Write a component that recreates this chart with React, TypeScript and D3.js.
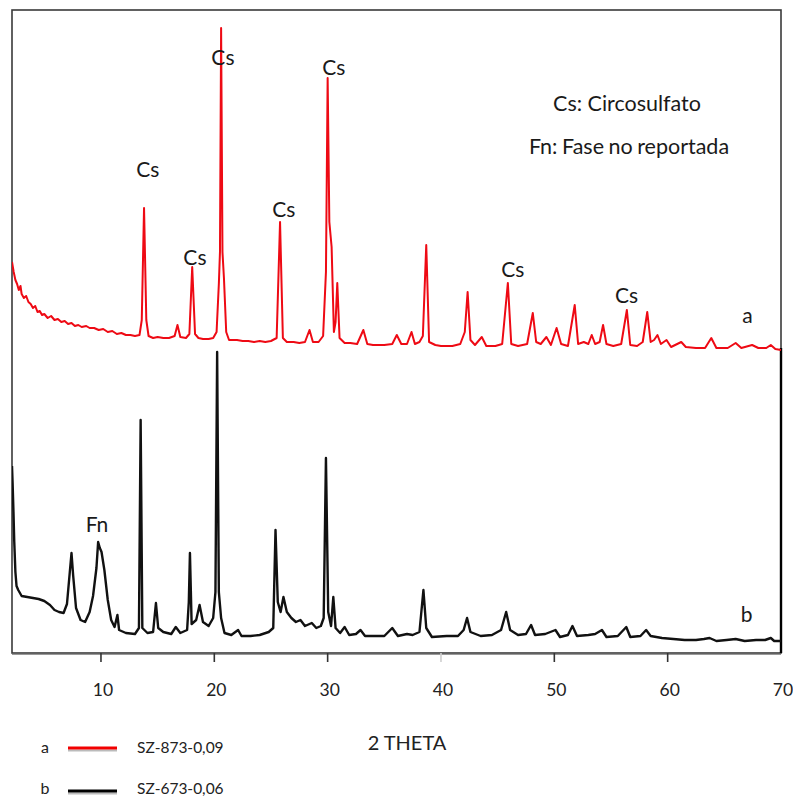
import React from "react";
import * as d3 from "d3";

// 2θ (degrees) vs relative intensity (arbitrary units, common scale)
const sampleA: [number, number][] = [
  [2.15,195],[2.3,190],[2.45,186],[2.6,184],[2.75,181],[2.9,183],[3.0,179],[3.2,177],[3.4,178],[3.6,175],[3.8,174],[4.0,172],[4.2,173],[4.4,170],[4.6,170.5],[4.8,168.5],[5.0,169],[5.3,167],[5.6,168],[5.9,166],[6.2,166.5],[6.5,165],[6.8,165.5],[7.1,164],[7.4,164.5],[7.7,163],[8.0,163.5],[8.3,162.5],[8.7,163],[9.0,162],[9.4,162],[9.8,161],[10.2,161.5],[10.6,160],[11.0,160.5],[11.4,159],[11.8,159.5],[12.2,158.5],[12.6,158.5],[13.0,158],[13.4,158.5],[13.6,166],[13.8,222],[14.0,166],[14.2,158],[14.6,157],[15.0,157.5],[15.5,157],[16.0,157],[16.5,158],[16.75,163.5],[17.0,157.5],[17.5,157],[17.8,159],[18.05,192.5],[18.3,159],[18.6,157],[19.0,156.5],[19.5,156.5],[19.9,157],[20.2,160],[20.4,184],[20.5,200],[20.6,312],[20.72,200],[20.85,187],[21.05,160],[21.3,156],[22,156],[22.5,155.5],[23,155.5],[23.5,155],[24,155.5],[24.5,155],[25.0,155.5],[25.5,157],[25.8,215],[26.05,157],[26.4,155],[27,155],[27.5,154.5],[28.0,155],[28.4,161],[28.7,155],[29.2,155],[29.6,158],[29.85,190],[30.0,287],[30.15,215],[30.35,202.5],[30.55,160],[30.7,165],[30.85,184.5],[31.05,157],[31.5,154.5],[32,154.5],[32.6,154],[33.15,161],[33.5,154],[34,153.5],[35,153.5],[35.7,154],[36.1,158.5],[36.5,154],[37.0,154],[37.4,160],[37.7,154],[38.1,155],[38.4,158],[38.7,203.5],[38.95,155],[39.5,153.5],[40,153],[41,153],[41.7,154],[42.1,160],[42.35,180],[42.6,156],[43.0,153.5],[43.6,157.5],[44.0,153],[44.8,153],[45.4,154],[45.9,184.5],[46.2,154],[46.8,153],[47.6,154],[48.1,169.5],[48.4,155],[48.8,154],[49.3,157.5],[49.7,153.5],[50.2,162],[50.6,154],[51.2,153],[51.8,173.5],[52.1,154],[52.6,155],[53.0,154],[53.3,158.5],[53.6,154],[54.0,155],[54.3,163.5],[54.6,154],[55.2,153],[55.9,154],[56.4,171],[56.7,153.5],[57.3,153],[57.8,155],[58.2,170],[58.5,155],[58.8,156],[59.1,158.5],[59.4,154],[59.9,156],[60.3,152.5],[61.2,155],[61.6,152.5],[62.5,152],[63.3,152],[63.85,157],[64.3,152],[65.3,152],[66.0,154.5],[66.5,152],[67.45,153.5],[68,152],[68.7,152],[69.1,153.5],[69.5,151.5],[70,151]
];

const sampleB: [number, number][] = [
  [2.15,93],[2.2,85],[2.28,70],[2.35,55],[2.45,40],[2.55,33],[2.7,31],[3.0,28],[3.5,27.5],[4.0,27],[4.5,26.5],[5.0,25.5],[5.5,23.5],[5.9,21],[6.3,20],[6.7,19.5],[7.0,24],[7.25,40],[7.4,49.5],[7.55,38],[7.8,22],[8.2,16],[8.6,15],[9.0,20],[9.3,28],[9.6,42],[9.75,55],[9.9,52],[10.05,50],[10.3,41],[10.6,26],[10.9,16],[11.2,12.5],[11.45,18.5],[11.6,11],[12.2,9.5],[13.0,9],[13.35,12],[13.5,116],[13.65,12],[14.1,9.5],[14.6,10],[14.85,24.5],[15.05,12],[15.5,10],[16.2,9],[16.6,12.5],[17.0,9.5],[17.6,11],[17.75,25],[17.85,49.5],[18.0,14],[18.4,16],[18.7,23.5],[19.0,15],[19.5,13],[19.9,17],[20.1,30],[20.25,150],[20.4,30],[20.6,17],[20.9,9.5],[21.5,8.5],[22.1,11],[22.4,8],[23.2,8],[24.0,8.5],[24.8,10],[25.2,12],[25.4,61],[25.6,25],[25.85,20],[26.1,27.5],[26.4,20],[26.8,17],[27.2,15],[27.6,16],[28.0,13],[28.6,14.5],[29.0,12],[29.4,13],[29.65,17],[29.85,97],[30.05,20],[30.3,13],[30.5,27.5],[30.7,12],[31.1,9.5],[31.5,12.5],[31.9,8.5],[32.5,9],[32.9,11],[33.3,8],[34.2,8],[35.0,8],[35.7,12],[36.2,8],[37.0,9],[37.5,8.5],[38.1,10],[38.45,31],[38.7,12],[39.2,7.5],[40.5,8],[41.5,8],[42.0,11],[42.3,17],[42.6,10],[43.5,8],[44.5,8.5],[45.3,11],[45.75,20],[46.1,11],[46.8,8.5],[47.5,9],[47.95,13.5],[48.3,8.5],[49.2,9],[50.1,11],[50.5,7.5],[51.2,8.5],[51.6,13],[52.0,8],[53.0,8.5],[53.6,9],[54.2,11],[54.6,7.5],[55.6,8],[56.35,12.5],[56.7,7.5],[57.6,8],[58.1,11],[58.5,8],[59.5,7],[60.5,6.5],[61.5,6],[62.5,6],[63.2,6.5],[63.7,7],[64.3,5.5],[65.2,6],[66,6.5],[66.8,5.5],[67.8,6],[68.6,6],[69.1,7],[69.4,5.5],[70,5.5]
];

const xTicks = [10, 20, 30, 40, 50, 60, 70];
const xTitle = "2 THETA";

// peak annotations: [2θ, intensity level, text]
const peakLabels: [number, number, string][] = [
  [14.14, 242, "Cs"],
  [18.29, 198, "Cs"],
  [20.76, 298, "Cs"],
  [26.14, 222, "Cs"],
  [30.55, 293, "Cs"],
  [46.33, 192, "Cs"],
  [56.38, 179, "Cs"],
  [9.65, 64.5, "Fn"],
  [67.05, 169, "a"],
  [66.96, 19.5, "b"],
];
const notes = ["Cs: Circosulfato", "Fn: Fase no reportada"];
const legendKeys = ["a", "b"];
const legendNames = ["SZ-873-0,09", "SZ-673-0,06"];
const legendColors = ["#f20000", "#000000"];

const FONT = "Lato, 'Open Sans', sans-serif";

export default function App() {
  const W = 793, H = 800;
  const left = 12, right = 781, top = 10, bottom = 653;
  const x = d3.scaleLinear().domain([2.15, 70]).range([left, right]);
  const y = d3.scaleLinear().domain([0, 321.5]).range([652, 9]);
  const line = d3.line<[number, number]>().x(d => x(d[0])).y(d => y(d[1]));

  return (
    <svg width={W} height={H} style={{ position: "absolute", left: 0, top: 0, background: "#fff" }}
      fontFamily={FONT}>
      <rect x={0} y={0} width={W} height={H} fill="#fff" />
      <defs>
        <clipPath id="plot">
          <rect x={left} y={top} width={right - left} height={bottom - top} />
        </clipPath>
      </defs>
      {/* frame */}
      <rect x={left} y={top} width={right - left} height={bottom - top} fill="none" stroke="#3a3a3a" strokeWidth={1.6} />
      <line x1={right} x2={right} y1={y(152)} y2={bottom} stroke="#000" strokeWidth={2.4} />
      <line x1={left} x2={right} y1={bottom + 1.5} y2={bottom + 1.5} stroke="#999" strokeWidth={1} />
      {/* series */}
      <g clipPath="url(#plot)">
        <path d={line(sampleA) || ""} fill="none" stroke="#ee0a14" strokeWidth={2} strokeLinejoin="round" />
        <path d={line(sampleB) || ""} fill="none" stroke="#111" strokeWidth={2.4} strokeLinejoin="round" />
      </g>
      {/* x axis ticks */}
      {xTicks.map(t => (
        <g key={t}>
          {t < 70 && (
            <line x1={x(t)} x2={x(t)} y1={bottom} y2={bottom + 9}
              stroke={t === 40 ? "#cfcfcf" : "#333"} strokeWidth={1.6} />
          )}
          <text x={x(t) + 2} y={689} textAnchor="middle" dominantBaseline="central"
            fontSize={17.5} fill="#222">{t}</text>
        </g>
      ))}
      <text x={407} y={742} textAnchor="middle" dominantBaseline="central" fontSize={20} fill="#222">{xTitle}</text>
      {/* annotations */}
      {peakLabels.map(([v, I, s], i) => (
        <text key={i} x={x(v)} y={y(I)} textAnchor="middle" dominantBaseline="central" fontSize={21} fill="#1a1a1a">{s}</text>
      ))}
      <text x={627} y={103} textAnchor="middle" dominantBaseline="central" fontSize={21.5} fill="#1a1a1a">{notes[0]}</text>
      <text x={629} y={146} textAnchor="middle" dominantBaseline="central" fontSize={21.5} fill="#1a1a1a" wordSpacing={-1}>{notes[1]}</text>
      {/* legend */}
      {legendKeys.map((k, i) => {
        const ly = 747 + i * 41;
        return (
          <g key={k}>
            <text x={45} y={ly - 1} textAnchor="middle" dominantBaseline="central" fontSize={16} fill="#222">{k}</text>
            <line x1={68} x2={117} y1={ly + 3.5 + i * 2} y2={ly + 3.5 + i * 2} stroke="#bbb" strokeWidth={2} />
            <line x1={68} x2={117} y1={ly + 1 + i * 2} y2={ly + 1 + i * 2} stroke={legendColors[i]} strokeWidth={3.2} />
            <text x={137} y={ly} dominantBaseline="central" fontSize={15.5} fill="#222">{legendNames[i]}</text>
          </g>
        );
      })}
    </svg>
  );
}
